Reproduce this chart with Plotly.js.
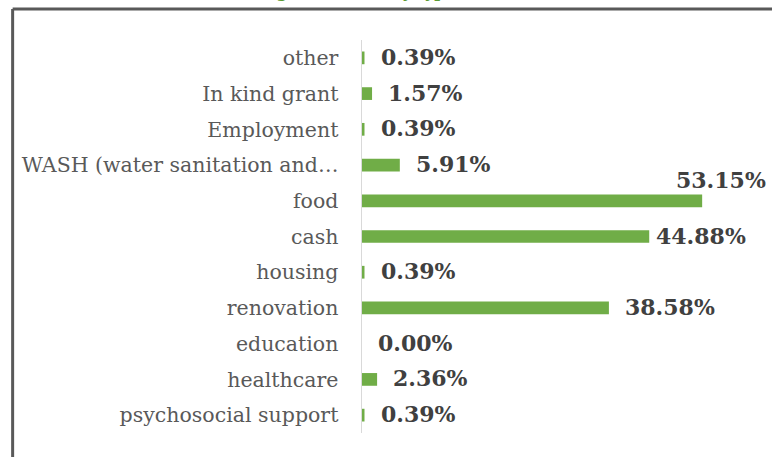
<!DOCTYPE html>
<html>
<head>
<meta charset="utf-8">
<script src="https://cdn.plot.ly/plotly-3.0.1.min.js"></script>
<style>
html,body{margin:0;padding:0;background:#fff;}
#chart{width:772px;height:457px;}
</style>
</head>
<body>
<div id="chart"></div>
<script>
// Data (top to bottom as displayed)
const categories = [
  "other",
  "In kind grant",
  "Employment",
  "WASH (water sanitation and…",
  "food",
  "cash",
  "housing",
  "renovation",
  "education",
  "healthcare",
  "psychosocial support"
];
const values = [0.39, 1.57, 0.39, 5.91, 53.15, 44.88, 0.39, 38.58, 0.00, 2.36, 0.39];
const labels = values.map(v => v.toFixed(2) + "%");
const titleText = "Receiving assistance by type";

// Layout geometry
const W = 772, H = 457;
const mL = 362, mR = 26.4, mT = 40, mB = 24;
const plotW = W - mL - mR, plotH = H - mT - mB;
const px2x = p => (p - mL) / plotW;
const px2y = p => (H - mB - p) / plotH;

const trace = {
  type: "bar",
  orientation: "h",
  x: values,
  y: categories,
  marker: {color: "#70ad47"},
  hoverinfo: "none"
};

const annotations = categories.map((c, i) => {
  const a = {
    x: values[i], y: c, xref: "x", yref: "y",
    text: labels[i], showarrow: false,
    xanchor: "left", yanchor: "middle",
    xshift: 14, yshift: 1,
    font: {family: "DejaVu Serif", size: 22, color: "#404040", weight: "bold"}
  };
  if (c === "cash") a.xshift = 5;
  if (c === "food") { a.xanchor = "center"; a.xshift = 19; a.yshift = 21; }
  return a;
});

annotations.push({
  xref: "paper", yref: "paper",
  x: px2x(198), y: px2y(-20),
  xanchor: "left", yanchor: "top",
  text: titleText, showarrow: false,
  font: {family: "DejaVu Serif", size: 16, color: "#5b9a34", weight: "bold"}
});

const layout = {
  width: W, height: H,
  margin: {l: mL, r: mR, t: mT, b: mB, pad: 0},
  paper_bgcolor: "#ffffff",
  plot_bgcolor: "#ffffff",
  showlegend: false,
  bargap: 0.644,
  xaxis: {
    range: [0, 60],
    visible: false,
    fixedrange: true
  },
  yaxis: {
    type: "category",
    autorange: "reversed",
    showline: true,
    linecolor: "#d9d9d9",
    linewidth: 1.5,
    showgrid: false,
    zeroline: false,
    ticks: "outside",
    ticklen: 18,
    tickcolor: "rgba(0,0,0,0)",
    tickfont: {family: "DejaVu Serif", size: 20.5, color: "#595959"},
    fixedrange: true
  },
  annotations: annotations,
  shapes: [
    {type: "line", xref: "paper", yref: "paper",
     x0: px2x(13), x1: px2x(13), y0: px2y(9), y1: px2y(470),
     line: {color: "#595959", width: 3}},
    {type: "line", xref: "paper", yref: "paper",
     x0: px2x(13), x1: px2x(790), y0: px2y(9), y1: px2y(9),
     line: {color: "#595959", width: 3}}
  ]
};

Plotly.newPlot("chart", [trace], layout, {displayModeBar: false, staticPlot: true});
</script>
</body>
</html>
